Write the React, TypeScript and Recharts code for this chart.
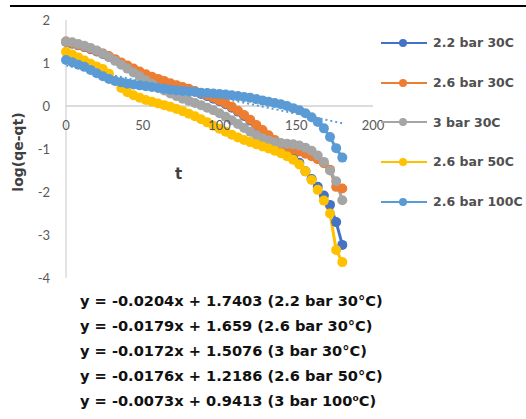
import { LineChart, Line, XAxis, YAxis, ReferenceLine, Legend } from 'recharts';

// time (min) – sampled every 4 units
const T = [
  0, 4, 8, 12, 16, 20, 24, 28, 32, 36, 40, 44, 48, 52, 56, 60, 64, 68, 72, 76, 80, 84, 88,
  92, 96, 100, 104, 108, 112, 116, 120, 124, 128, 132, 136, 140, 144, 148, 152, 156, 160,
  164, 168, 172, 176, 180,
];

const bar22_30 = [
  1.49, 1.45, 1.41, 1.37, 1.32, 1.27, 1.21, 1.14, 1.07, 0.99, 0.92, 0.85, 0.78, 0.72, 0.66,
  0.61, 0.56, 0.51, 0.47, 0.42, 0.38, 0.33, 0.28, 0.23, 0.17, 0.11, 0.04, -0.04, -0.13,
  -0.23, -0.34, -0.46, -0.59, -0.72, -0.85, -0.97, -1.07, -1.18, -1.32, -1.52, -1.7, -1.88,
  -2.08, -2.3, -2.7, -3.23,
];

const bar26_30 = [
  1.5, 1.46, 1.42, 1.38, 1.33, 1.28, 1.22, 1.16, 1.09, 1.01, 0.94, 0.87, 0.8, 0.74, 0.68,
  0.63, 0.58, 0.53, 0.48, 0.44, 0.4, 0.35, 0.3, 0.25, 0.19, 0.13, 0.06, -0.02, -0.11, -0.21,
  -0.32, -0.44, -0.56, -0.68, -0.79, -0.88, -0.95, -1.01, -1.06, -1.11, -1.17, -1.24, -1.33,
  -1.48, -1.88, -1.92,
];

const bar3_30 = [
  1.5, 1.48, 1.44, 1.4, 1.35, 1.29, 1.22, 1.14, 1.05, 0.96, 0.87, 0.78, 0.69, 0.6, 0.51,
  0.43, 0.36, 0.29, 0.23, 0.17, 0.12, 0.07, 0.02, -0.04, -0.1, -0.17, -0.25, -0.33, -0.42,
  -0.51, -0.6, -0.68, -0.75, -0.8, -0.84, -0.86, -0.88, -0.89, -0.92, -0.97, -1.04, -1.15,
  -1.3, -1.5, -1.75, -2.19,
];

const bar26_50 = [
  1.26, 1.2, 1.13, 1.06, 0.98, 0.92, 0.86, 0.75, 0.58, 0.42, 0.32, 0.25, 0.19, 0.14, 0.1,
  0.06, 0.02, -0.02, -0.07, -0.12, -0.18, -0.24, -0.31, -0.38, -0.46, -0.53, -0.6, -0.67,
  -0.73, -0.79, -0.84, -0.89, -0.94, -0.99, -1.04, -1.1, -1.17, -1.25, -1.36, -1.52, -1.72,
  -1.95, -2.2, -2.5, -3.35, -3.63,
];

const bar26_100 = [
  1.07, 1.02, 0.96, 0.91, 0.84, 0.76, 0.69, 0.63, 0.58, 0.55, 0.52, 0.5, 0.48, 0.46, 0.44,
  0.42, 0.4, 0.38, 0.36, 0.35, 0.34, 0.33, 0.31, 0.3, 0.29, 0.28, 0.27, 0.25, 0.23, 0.21,
  0.19, 0.16, 0.13, 0.1, 0.07, 0.04, 0.0, -0.05, -0.1, -0.17, -0.26, -0.37, -0.52, -0.72,
  -0.98, -1.2,
];

// linear trendline of the 100C run, end points
const trendT = [0, 180];
const trend100 = [0.94, -0.4];

const SERIES = [
  { key: 's1', name: '2.2 bar 30C', color: '#4472C4', values: bar22_30 },
  { key: 's2', name: '2.6 bar 30C', color: '#ED7D31', values: bar26_30 },
  { key: 's3', name: '3 bar 30C', color: '#A5A5A5', values: bar3_30 },
  { key: 's4', name: '2.6 bar 50C', color: '#FFC000', values: bar26_50 },
  { key: 's5', name: '2.6 bar 100C', color: '#5B9BD5', values: bar26_100 },
];

const X_TICKS = [0, 50, 100, 150, 200];
const Y_TICKS = [-4, -3, -2, -1, 0, 1, 2];

const EQUATIONS = [
  'y = -0.0204x + 1.7403 (2.2 bar 30°C)',
  'y = -0.0179x + 1.659 (2.6 bar 30°C)',
  'y = -0.0172x + 1.5076 (3 bar 30°C)',
  'y = -0.0176x + 1.2186 (2.6 bar 50°C)',
  'y = -0.0073x + 0.9413 (3 bar 100⁰C)',
];

const data = T.map((t, i) => {
  const row: Record<string, number | null> = { t };
  SERIES.forEach((s) => (row[s.key] = s.values[i]));
  const ti = trendT.indexOf(t);
  row.trend = ti >= 0 ? trend100[ti] : null;
  return row;
});

const LABEL_FONT = '"DejaVu Sans", Verdana, sans-serif';
const TICK_FONT = 'Lato, "Open Sans", sans-serif';

// x tick labels sit just under the zero line, not at the bottom of the plot
function ZeroTick({ x, payload }: any) {
  return (
    <text x={x} y={130} textAnchor="middle" fill="#595959" fontSize={13} fontFamily={TICK_FONT}>
      {payload.value}
    </text>
  );
}

function LegendBox() {
  return (
    <div style={{ position: 'absolute', left: 380, top: 23 }}>
      {SERIES.map((s) => (
        <div key={s.key} style={{ display: 'flex', alignItems: 'center', height: 39.7 }}>
          <svg width={48} height={10}>
            <line x1={1} y1={5} x2={47} y2={5} stroke={s.color} strokeWidth={2} />
            <circle cx={23} cy={5} r={4} fill={s.color} />
          </svg>
          <span
            style={{
              marginLeft: 5,
              fontFamily: LABEL_FONT,
              fontWeight: 700,
              fontSize: 12.5,
              color: '#505050',
              whiteSpace: 'nowrap',
            }}
          >
            {s.name}
          </span>
        </div>
      ))}
    </div>
  );
}

export default function App() {
  return (
    <div
      style={{
        position: 'absolute',
        left: 0,
        top: 0,
        width: 526,
        height: 419,
        background: '#fff',
        overflow: 'hidden',
      }}
    >
      <div style={{ position: 'absolute', left: 10, top: 5, width: 516, height: 2, background: '#000' }} />

      <LineChart
        width={526}
        height={419}
        data={data}
        margin={{ top: 20, right: 153, bottom: 121, left: 36 }}
      >
        <XAxis
          dataKey="t"
          type="number"
          domain={[0, 200]}
          ticks={X_TICKS}
          axisLine={false}
          tickLine={false}
          height={20}
          tick={<ZeroTick />}
          interval={0}
        />
        <YAxis
          domain={[-4, 2]}
          ticks={Y_TICKS}
          width={30}
          axisLine={{ stroke: '#C8C8C8' }}
          tickLine={false}
          tick={{ fill: '#595959', fontSize: 13, fontFamily: TICK_FONT }}
          tickMargin={10}
        />
        <ReferenceLine y={0} stroke="#D0D0D0" strokeWidth={1.5} />
        <Line
          dataKey="trend"
          stroke="#5B9BD5"
          strokeWidth={2}
          strokeDasharray="2 3"
          dot={false}
          connectNulls
          legendType="none"
          isAnimationActive={false}
        />
        {SERIES.map((s) => (
          <Line
            key={s.key}
            dataKey={s.key}
            name={s.name}
            stroke={s.color}
            strokeWidth={3}
            dot={{ r: 5, fill: s.color, stroke: s.color, strokeWidth: 0 }}
            isAnimationActive={false}
          />
        ))}
        <Legend content={() => null} />
      </LineChart>

      <LegendBox />

      <div
        style={{
          position: 'absolute',
          left: 4,
          top: 152,
          width: 28,
          height: 0,
          display: 'flex',
          justifyContent: 'center',
        }}
      >
        <div
          style={{
            transform: 'rotate(-90deg)',
            fontFamily: LABEL_FONT,
            fontWeight: 700,
            fontSize: 14,
            color: '#404040',
            whiteSpace: 'nowrap',
            lineHeight: '0px',
          }}
        >
          log(qe-qt)
        </div>
      </div>

      <div
        style={{
          position: 'absolute',
          left: 175,
          top: 165,
          fontFamily: LABEL_FONT,
          fontWeight: 700,
          fontSize: 15,
          color: '#404040',
        }}
      >
        t
      </div>

      <div style={{ position: 'absolute', left: 80, top: 288 }}>
        {EQUATIONS.map((e) => (
          <div
            key={e}
            style={{
              fontFamily: LABEL_FONT,
              fontWeight: 700,
              fontSize: 14.6,
              lineHeight: '25px',
              height: 25,
              color: '#111',
              whiteSpace: 'nowrap',
            }}
          >
            {e}
          </div>
        ))}
      </div>
    </div>
  );
}
